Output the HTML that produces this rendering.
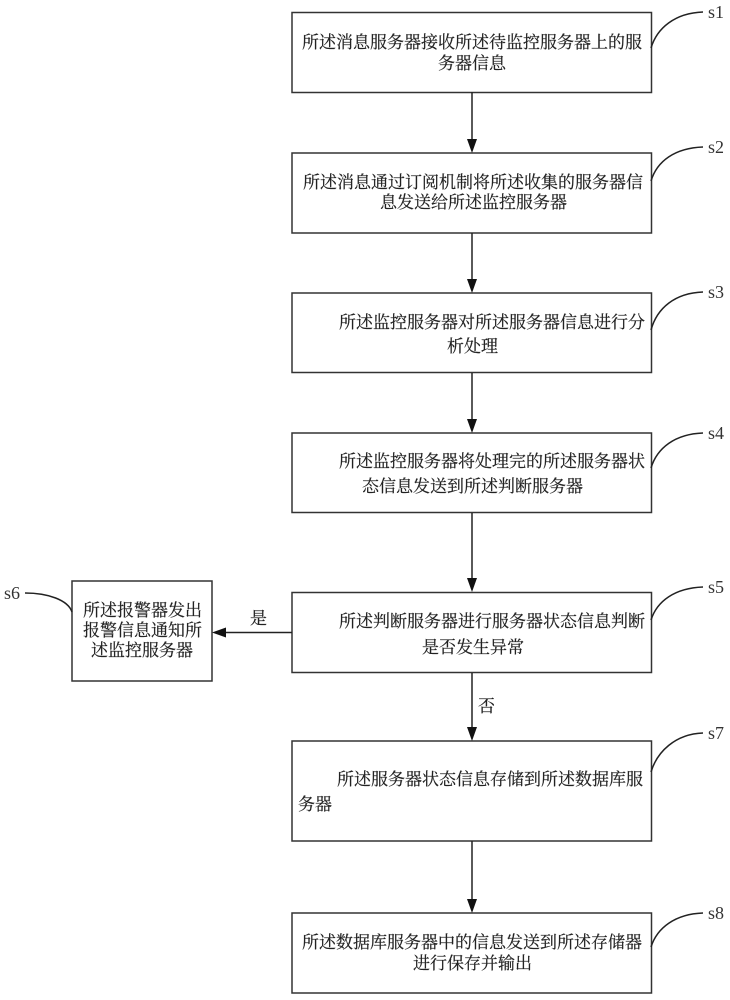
<!DOCTYPE html>
<html lang="zh">
<head>
<meta charset="utf-8">
<title>流程图</title>
<style>
html,body{margin:0;padding:0;background:#fff;}
svg{display:block;}
.z{font-family:"Liberation Serif","Noto Serif CJK SC",serif;font-size:17px;fill:#222;stroke:#222;stroke-width:.2;}
.l{font-family:"Liberation Serif",serif;font-size:18px;fill:#333;}
.b{fill:#fff;stroke:#333;stroke-width:1.5;}
.c{fill:none;stroke:#222;stroke-width:1.5;}
.a{stroke:#222;stroke-width:1.5;}
.h{fill:#111;}
</style>
</head>
<body>
<svg width="730" height="1000" viewBox="0 0 730 1000" xmlns="http://www.w3.org/2000/svg">
<rect x="292" y="12.5" width="359.5" height="80" class="b"/>
<rect x="292" y="153" width="359.5" height="80" class="b"/>
<rect x="292" y="293" width="359.5" height="79.5" class="b"/>
<rect x="292" y="433" width="359.5" height="79.5" class="b"/>
<rect x="292" y="592.5" width="359.5" height="80" class="b"/>
<rect x="292" y="741" width="359.5" height="100" class="b"/>
<rect x="292" y="913" width="359.5" height="80" class="b"/>
<rect x="72" y="581" width="140" height="100" class="b"/>

<line x1="472" y1="92" x2="472" y2="141" class="a"/><path d="M467 139H477L472 153Z" class="h"/>
<line x1="472" y1="233" x2="472" y2="281" class="a"/><path d="M467 279H477L472 293Z" class="h"/>
<line x1="472" y1="373" x2="472" y2="421" class="a"/><path d="M467 419H477L472 433Z" class="h"/>
<line x1="472" y1="513" x2="472" y2="580" class="a"/><path d="M467 578H477L472 592Z" class="h"/>
<line x1="472" y1="673" x2="472" y2="729" class="a"/><path d="M467 727H477L472 741Z" class="h"/>
<line x1="472" y1="841" x2="472" y2="901" class="a"/><path d="M467 899H477L472 913Z" class="h"/>
<line x1="292" y1="632.5" x2="224" y2="632.5" class="a"/><path d="M226 627.5V637.5L212 632.5Z" class="h"/>

<path d="M651 48C657 28 675 13 703 12" class="c"/>
<path d="M651 181C657 161 675 148 703 147" class="c"/>
<path d="M651 330C657 308 675 293 703 292" class="c"/>
<path d="M651 468C657 448 675 434 703 433" class="c"/>
<path d="M651 620C657 601 675 588 703 587" class="c"/>
<path d="M651 772C657 752 675 734 703 733" class="c"/>
<path d="M651 947C657 928 675 914 703 913" class="c"/>
<path d="M25 593C48 593 68 600 72 612" class="c"/>

<text class="l" x="708" y="18">s1</text>
<text class="l" x="708" y="153">s2</text>
<text class="l" x="708" y="298">s3</text>
<text class="l" x="708" y="439">s4</text>
<text class="l" x="708" y="593">s5</text>
<text class="l" x="708" y="739">s7</text>
<text class="l" x="708" y="919">s8</text>
<text class="l" x="4" y="599">s6</text>

<text class="z" x="302" y="48">所述消息服务器接收所述待监控服务器上的服</text>
<text class="z" x="438" y="69">务器信息</text>
<text class="z" x="303" y="188">所述消息通过订阅机制将所述收集的服务器信</text>
<text class="z" x="380" y="208">息发送给所述监控服务器</text>
<text class="z" x="339" y="328">所述监控服务器对所述服务器信息进行分</text>
<text class="z" x="447" y="352">析处理</text>
<text class="z" x="339" y="467">所述监控服务器将处理完的所述服务器状</text>
<text class="z" x="362" y="492">态信息发送到所述判断服务器</text>
<text class="z" x="339" y="627">所述判断服务器进行服务器状态信息判断</text>
<text class="z" x="422" y="653">是否发生异常</text>
<text class="z" x="337" y="785">所述服务器状态信息存储到所述数据库服</text>
<text class="z" x="298" y="810">务器</text>
<text class="z" x="302" y="948">所述数据库服务器中的信息发送到所述存储器</text>
<text class="z" x="413" y="969">进行保存并输出</text>
<text class="z" x="83" y="616">所述报警器发出</text>
<text class="z" x="83" y="636">报警信息通知所</text>
<text class="z" x="91" y="656">述监控服务器</text>
<text class="z" x="250" y="624">是</text>
<text class="z" x="478" y="712">否</text>
</svg>
</body>
</html>
